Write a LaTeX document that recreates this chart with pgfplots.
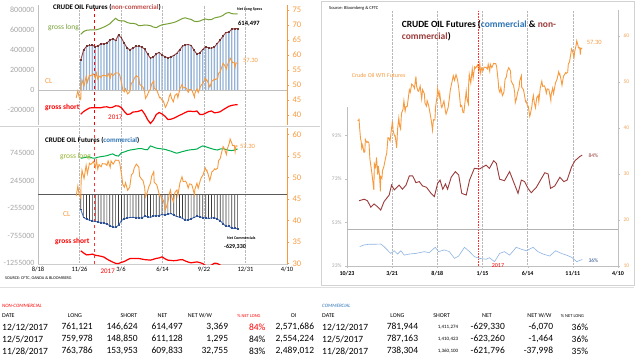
\documentclass[border=0pt]{standalone}
\usepackage{pgfplots}
\pgfplotsset{compat=1.18}
\usepackage{pgfplotstable}
\usepackage{fontspec}
\setmainfont{Carlito}
\newcommand{\fs}[1]{\fontsize{#1}{#1}\selectfont}
\definecolor{cOr}{HTML}{F79A3E}
\definecolor{cOrL}{HTML}{F5A55A}
\definecolor{cNet}{HTML}{A04040}
\definecolor{cNetM}{HTML}{6E3535}
\definecolor{cBar}{HTML}{95B3D7}
\definecolor{cGLa}{HTML}{76A035}
\definecolor{cGLb}{HTML}{00B050}
\definecolor{cCNet}{HTML}{4A78C2}
\definecolor{cCNetM}{HTML}{2F4F8F}
\definecolor{cGBar}{HTML}{3A3A3A}
\definecolor{cPR}{HTML}{9B3B3B}
\definecolor{cPB}{HTML}{8EB4E3}
\definecolor{cTitR}{HTML}{C0504D}
\definecolor{cTitB}{HTML}{2E75B6}
\definecolor{cGT}{HTML}{A6A6A6}

\pgfplotstableread{
d ncnet nclong ncshort cnet clong cshort
403 300 557 -243 -280 649 -1031
410 400 585 -215 -424 660 -1070
417 437 597 -197 -458 672 -1105
424 446 600 -180 -473 675 -1100
431 448 600 -177 -487 655 -1090
438 433 600 -177 -497 655 -1110
445 442 607 -177 -507 670 -1120
452 462 618 -177 -518 680 -1130
459 460 630 -170 -530 688 -1145
466 470 645 -168 -545 697 -1180
473 498 662 -177 -573 715 -1210
480 512 690 -172 -597 730 -1235
487 495 717 -158 -605 700 -1258
494 550 695 -160 -566 690 -1262
501 520 690 -177 -480 750 -1240
508 468 690 -215 -450 765 -1225
515 418 675 -245 -435 785 -1195
522 402 667 -240 -425 800 -1170
529 420 667 -220 -424 808 -1168
536 437 660 -218 -426 817 -1170
543 438 643 -212 -436 826 -1170
550 428 645 -200 -432 825 -1180
557 410 650 -240 -405 810 -1190
564 360 648 -295 -410 805 -1195
571 317 643 -335 -424 875 -1200
578 330 630 -300 -398 855 -1185
585 360 623 -245 -395 835 -1168
592 375 640 -225 -392 826 -1160
599 350 652 -240 -370 820 -1140
606 333 657 -262 -380 812 -1175
613 322 662 -295 -368 795 -1200
620 330 668 -292 -352 780 -1205
627 345 675 -283 -382 760 -1210
634 365 685 -268 -406 742 -1205
641 400 700 -253 -420 755 -1195
648 437 715 -240 -440 772 -1190
655 450 722 -225 -473 785 -1215
662 455 712 -212 -470 798 -1235
669 445 706 -213 -450 805 -1248
676 398 688 -216 -425 810 -1240
683 358 684 -210 -401 818 -1232
690 372 690 -245 -413 850 -1245
697 405 702 -245 -426 875 -1262
704 432 710 -232 -435 860 -1300
711 422 702 -217 -442 842 -1310
718 418 705 -210 -432 825 -1290
725 430 720 -228 -428 810 -1255
732 465 727 -225 -455 800 -1260
739 500 733 -217 -483 818 -1290
746 540 747 -198 -540 825 -1320
753 575 768 -180 -584 808 -1340
760 577.078 775 -163 -583.798 795 -1330
767 609.833 763.786 -153.953 -621.796 790 -1360.1
774 611.128 759.978 -148.850 -623.260 800 -1410.423
781 614.497 761.121 -146.624 -629.330 820 -1411.274
}\weekly

\pgfplotstableread{
d p
35 41.70
38 41.65
40 41.85
42 39.97
45 37.65
47 37.16
49 35.62
52 36.31
54 35.52
56 34.73
59 34.74
61 37.50
66 36.81
69 37.04
73 36.76
76 33.27
80 31.41
82 30.48
84 29.42
89 26.55
91 32.19
95 31.45
98 33.62
102 29.88
104 31.72
108 29.69
111 26.21
112 29.44
116 29.04
118 30.77
122 31.48
126 32.78
129 33.75
132 34.57
136 37.90
139 37.84
143 37.18
147 39.44
151 41.45
153 39.46
158 38.28
160 38.34
165 35.70
168 39.72
172 42.17
175 40.36
178 39.78
181 43.18
186 44.04
189 45.92
193 43.65
196 44.66
200 44.66
203 46.21
207 48.31
210 47.75
215 49.56
221 49.10
224 48.62
229 51.23
231 49.07
236 48.01
238 47.98
243 49.13
248 46.33
251 48.33
257 47.43
259 45.41
264 44.75
266 45.95
271 44.94
276 43.13
280 41.60
284 39.51
287 41.80
292 41.71
294 44.49
299 46.79
301 48.52
306 46.77
308 47.64
313 44.70
315 44.44
320 45.50
322 45.88
327 43.58
329 43.03
333 43.85
336 44.48
341 47.05
343 48.24
348 49.83
353 51.35
357 50.35
362 51.60
367 50.52
371 48.70
374 46.86
377 44.66
381 44.89
385 43.41
388 43.32
392 45.69
396 48.03
399 46.06
403 45.23
404 49.44
406 51.68
411 49.77
416 52.83
419 50.90
424 53.30
427 53.02
434 53.72
438 52.33
441 53.99
444 51.96
447 53.01
452 52.48
455 53.22
459 53.18
462 53.17
466 52.81
469 53.83
474 52.34
476 53.86
481 53.11
487 54.06
490 53.99
494 54.01
497 53.33
502 50.28
504 48.49
508 47.72
511 48.78
516 47.04
521 47.73
525 50.60
529 51.03
532 52.24
537 53.11
543 52.41
545 50.27
550 49.56
553 49.33
557 47.66
559 45.52
563 46.43
567 47.84
571 48.66
574 50.33
579 51.36
580 48.90
586 48.32
588 47.66
593 45.72
595 45.83
600 44.73
602 44.74
607 42.53
609 43.01
614 44.74
616 46.04
619 47.07
622 45.52
626 44.40
630 46.54
635 47.12
637 45.77
642 48.75
647 50.17
650 49.03
655 49.17
658 48.82
662 47.55
665 48.51
670 48.41
672 47.87
677 45.96
678 47.23
683 48.66
686 47.48
691 49.30
693 49.89
698 50.69
703 52.22
706 51.56
707 51.67
711 50.42
714 49.29
719 51.30
721 51.45
726 52.04
728 51.84
733 52.18
735 53.90
739 54.38
742 55.64
746 57.20
749 56.74
754 55.33
756 56.55
761 58.02
763 58.95
767 57.99
769 57.40
773 57.47
775 55.96
777 57.36
781 57.30
}\wti

\pgfplotstableread{
d v
40 63.0
57 63.7
68 63.0
79 60.0
90 61.5
101 60.3
112 58.7
123 62.6
140 65.6
148 70.2
157 68.0
173 70.2
184 68.3
196 70.2
207 74.4
218 74.4
229 71.3
240 71.8
251 69.8
264 69.2
279 66.4
290 64.9
301 71.0
309 72.5
318 68.3
327 70.7
334 68.3
346 73.8
360 76.4
371 74.8
381 66.4
396 65.6
407 72.5
423 77.9
440 77.6
462 79.4
473 77.9
487 81.4
496 80.2
507 72.9
523 72.2
540 76.4
551 72.5
568 66.4
579 72.5
590 71.8
601 68.7
612 66.7
629 69.2
646 73.3
657 75.9
668 75.3
676 68.7
690 69.8
707 73.8
720 71.8
731 72.5
746 78.6
757 81.4
773 83.3
781 84.0
}\pctnc

\pgfplotstableread{
d v
42 41.9
57 42.7
75 43.0
95 43.0
112 43.1
123 41.9
145 38.8
157 40.0
168 38.5
179 40.0
190 38.0
207 38.5
229 38.8
257 39.6
273 39.1
293 41.6
304 39.6
323 40.4
340 39.6
357 36.5
371 37.6
390 41.6
407 39.6
423 37.3
440 36.5
462 36.1
473 36.8
490 35.0
507 38.8
523 39.6
540 38.0
562 41.6
579 40.7
596 40.0
618 41.6
634 39.6
651 38.5
673 37.6
693 40.0
712 38.8
729 38.0
746 37.0
763 35.0
781 36.0
}\pctc

\begin{document}
\begin{tikzpicture}[x=1pt,y=1pt]
\path[use as bounding box] (0,0) rectangle (640,-358);
\fill[white] (0,0) rectangle (640,-358);
% frames
\draw[gray!35] (321,-1) rectangle (634,-285);
\draw[gray!35] (0,-126) -- (320,-126);
\draw[gray!25] (0,-287) -- (634,-287);

% ---------- top-left: non-commercial ----------
\begin{axis}[at={(38pt,-125pt)}, anchor=south west, scale only axis,
  width=249pt, height=120pt, xmin=300, xmax=900, ymin=-350, ymax=850,
  axis lines*=left, x axis line style={draw=none}, y axis line style={draw=gray!50},
  xtick={400,500,600,700,800}, xticklabels={}, xmajorgrids,
  x grid style={gray!55, densely dotted, line width=0.5pt},
  ytick={-200,0,200,400,600,800},
  yticklabels={-200000,0,200000,400000,600000,800000},
  yticklabel style={font=\fs{8}, text=cGT}, tick style={draw=none}]
\addplot[gray!50, line width=0.5pt] coordinates {(300,0) (900,0)};
\addplot[ybar, bar width=1.3pt, fill=cBar, draw=none] table[x=d, y=ncnet] {\weekly};
\addplot[cGLa, line width=1pt] table[x=d, y=nclong] {\weekly};
\addplot[red, line width=1.2pt] table[x=d, y=ncshort] {\weekly};
\addplot[cNet, line width=0.9pt, mark=square*, mark size=0.45pt, mark options={fill=cNetM, draw=cNetM}] table[x=d, y=ncnet] {\weekly};
\addplot[red, dashed, line width=1.2pt] coordinates {(436,-350) (436,850)};
\end{axis}
\begin{axis}[at={(38pt,-125pt)}, anchor=south west, scale only axis,
  width=249pt, height=120pt, xmin=300, xmax=900, ymin=36.667, ymax=76.667,
  axis y line*=right, axis x line=none, y axis line style={draw=cOr, line width=0.7pt},
  ytick={40,45,50,55,60,65,70,75}, yticklabels={40,45,50,55,60,65,70,75},
  yticklabel style={font=\fs{8.5}, text=cOr}, ytick style={draw=cOr},
  major tick length=2pt, tick align=outside]
\addplot[cOr, line width=0.9pt, restrict x to domain=390:800] table[x=d, y=p] {\wti};
\end{axis}
\node[anchor=west, inner sep=0] at (53,-7) {\fs{7}\bfseries CRUDE OIL Futures (\textcolor{cTitR}{non-commercial})};
\node[anchor=west, inner sep=0, text=cGLa] at (48,-28) {\fs{7.5}gross long};
\node[anchor=west, inner sep=0, text=cOr] at (45,-81.5) {\fs{7.5}CL};
\node[anchor=west, inner sep=0, text=red] at (45,-107.5) {\fs{7.5}\bfseries gross short};
\node[anchor=west, inner sep=0, text=red] at (108,-117.5) {\fs{7}2017};
\node[anchor=west, inner sep=0] at (237,-9.5) {\fs{4}\bfseries Net Long Specs};
\node[anchor=west, inner sep=0] at (238,-23.5) {\fs{6.5}\bfseries 614,497};
\node[anchor=west, inner sep=0, text=cOr] at (243,-60) {\fs{6.5}57.30};

% ---------- bottom-left: commercial ----------
\begin{axis}[at={(38pt,-264pt)}, anchor=south west, scale only axis,
  width=249pt, height=136pt, xmin=300, xmax=900, ymin=-1270, ymax=1200,
  axis lines*=left, x axis line style={draw=gray!40}, y axis line style={draw=gray!50},
  xtick={300,400,500,600,700,800,900},
  xticklabels={8/18,11/26,3/6,6/14,9/22,12/31,4/10},
  xticklabel style={font=\fs{6.5}, text=black, yshift=1pt},
  xmajorgrids, x grid style={gray!55, densely dotted, line width=0.5pt},
  ytick={-1255,-755,-255,245,745},
  yticklabels={-1255000,-755000,-255000,245000,745000},
  yticklabel style={font=\fs{8}, text=cGT}, tick style={draw=none}]
\addplot[ybar, bar width=0.7pt, fill=cGBar, draw=none] table[x=d, y=cnet] {\weekly};
\addplot[gray!70!black, line width=0.6pt] coordinates {(300,0) (900,0)};
\addplot[cGLb, line width=1pt] table[x=d, y=clong] {\weekly};
\addplot[red, line width=1.2pt] table[x=d, y=cshort] {\weekly};
\addplot[cCNet, line width=0.9pt, mark=square*, mark size=0.45pt, mark options={fill=cCNetM, draw=cCNetM}] table[x=d, y=cnet] {\weekly};
\addplot[red!80, dashed, line width=1.2pt] coordinates {(436,-1270) (436,1200)};
\end{axis}
\begin{axis}[at={(38pt,-264pt)}, anchor=south west, scale only axis,
  width=249pt, height=136pt, xmin=300, xmax=900, ymin=29.9, ymax=61.5,
  axis y line*=right, axis x line=none, y axis line style={draw=cOr, line width=0.7pt},
  ytick={30,35,40,45,50,55,60}, yticklabels={30,35,40,45,50,55,60},
  yticklabel style={font=\fs{8.5}, text=cOr}, ytick style={draw=cOr},
  major tick length=2pt, tick align=outside]
\addplot[cOr, line width=0.9pt, restrict x to domain=390:800] table[x=d, y=p] {\wti};
\end{axis}
\node[anchor=west, inner sep=0] at (45,-140.7) {\fs{7}\bfseries CRUDE OIL Futures (\textcolor{cTitB}{commercial})};
\node[anchor=west, inner sep=0, text=cGLa!80!yellow] at (60,-156.7) {\fs{7.5}gross long};
\node[anchor=west, inner sep=0, text=cOr] at (63,-214) {\fs{7.5}CL};
\node[anchor=west, inner sep=0, text=red] at (55,-242) {\fs{7.5}\bfseries gross short};
\node[anchor=west, inner sep=0] at (227,-238) {\fs{4}\bfseries Net Commercials};
\node[anchor=west, inner sep=0] at (224,-246.7) {\fs{6}\bfseries -629,330};
\node[anchor=west, inner sep=0, text=cOr] at (240,-146.7) {\fs{6.5}57.30};
\node[anchor=east, inner sep=0, text=red] at (115,-271) {\fs{7}2017};
\node[anchor=west, inner sep=0] at (5,-278.5) {\fs{4.2}SOURCE: CFTC, OANDA \& BLOOMBERG};

% ---------- right panel ----------
\begin{axis}[at={(347pt,-266pt)}, anchor=south west, scale only axis,
  width=271pt, height=256pt, xmin=0, xmax=900, ymin=10, ymax=65.65,
  axis lines*=right, x axis line style={draw=none}, y axis line style={draw=gray!50},
  xtick={150,300,450,600,750}, xticklabels={}, xmajorgrids,
  x grid style={gray!55, densely dotted, line width=0.5pt},
  ytick={10,20,30,40,50,60}, yticklabels={10,20,30,40,50,60},
  yticklabel style={font=\fs{5.5}, text=cOrL}, ytick style={draw=gray!50},
  xtick style={draw=none}, major tick length=2pt, tick align=outside]
\addplot[cOr, line width=0.9pt] table[x=d, y=p] {\wti};
\addplot[red!80, densely dotted, line width=0.6pt] coordinates {(436,10) (436,65.65)};
\end{axis}
\begin{axis}[at={(347pt,-266pt)}, anchor=south west, scale only axis,
  width=271pt, height=159pt, xmin=0, xmax=900, ymin=33, ymax=106.1,
  axis lines*=left, axis line style={draw=gray!50},
  xtick={0,150,300,450,600,750,900},
  xticklabels={10/23,3/21,8/18,1/15,6/14,11/11,4/10},
  xticklabel style={font=\fs{6}\bfseries, text=black},
  ytick={33,53,73,93}, yticklabels={33\%,53\%,73\%,93\%},
  yticklabel style={font=\fs{5.5}, text=cGT}, tick style={draw=gray!50},
  major tick length=2pt, tick align=outside]
\addplot[gray!60, line width=0.7pt] coordinates {(0,50) (900,50)};
\addplot[cPR, line width=0.9pt] table[x=d, y=v] {\pctnc};
\addplot[cPB, line width=0.6pt] table[x=d, y=v] {\pctc};
\end{axis}
\node[anchor=west, inner sep=0] at (329,-8.3) {\fs{4.5}Source: Bloomberg \& CFTC};
\node[anchor=west, inner sep=0] at (401.7,-24.5) {\fs{9.5}\bfseries CRUDE OIL Futures (\textcolor{cTitB}{commercial} \& \textcolor{cPR}{non-}};
\node[anchor=west, inner sep=0] at (401.7,-36.5) {\fs{9.5}\bfseries \textcolor{cPR}{commercial})};
\node[anchor=west, inner sep=0, text=cOr] at (351.7,-75) {\fs{6}Crude Oil WTI Futures};
\node[anchor=west, inner sep=0, text=cOr] at (586.7,-42.3) {\fs{6.5}57.30};
\node[anchor=west, inner sep=0, text=cPR] at (588.3,-156) {\fs{5.5}84\%};
\node[anchor=west, inner sep=0, text=cCNetM] at (588.3,-261) {\fs{5.5}36\%};
\node[anchor=west, inner sep=0, text=red] at (491.7,-265.7) {\fs{6}2017};

% ---------- tables ----------
\node[anchor=west, inner sep=0, text=red] at (2,-305.7) {\fs{5}\itshape NON-COMMERCIAL};
\node[anchor=west, inner sep=0, text=cTitB] at (322,-305.7) {\fs{5}\itshape COMMERCIAL};
\begin{scope}[every node/.style={inner sep=0, font=\fs{6}}]
\node[anchor=west] at (2,-316) {DATE};
\node at (75,-316) {LONG};
\node at (129,-316) {SHORT};
\node at (162.5,-316) {NET};
\node at (200,-316) {NET W/W};
\node[text=red, font=\fs{4.5}] at (249,-316) {\% NET LONG};
\node at (293.5,-316) {OI};
\node[anchor=west] at (322,-316) {DATE};
\node at (397.5,-316) {LONG};
\node at (441.7,-316) {SHORT};
\node at (487,-316) {NET};
\node at (539.5,-316) {NET W/W};
\node[font=\fs{4.5}] at (572.5,-316) {\% NET LONG};
\end{scope}
\begin{scope}[every node/.style={inner sep=0, font=\fs{9.5}, anchor=east}]
\node[anchor=west] at (2,-327.3) {12/12/2017};
\node at (93,-327.3) {761,121};
\node at (138,-327.3) {146,624};
\node at (183,-327.3) {614,497};
\node at (228.3,-327.3) {3,369};
\node[text=red] at (265.7,-327.3) {84\%};
\node at (314.3,-327.3) {2,571,686};
\node[anchor=west] at (2,-339.3) {12/5/2017};
\node at (93,-339.3) {759,978};
\node at (138,-339.3) {148,850};
\node at (183,-339.3) {611,128};
\node at (228.3,-339.3) {1,295};
\node at (265.7,-339.3) {84\%};
\node at (314.3,-339.3) {2,554,224};
\node[anchor=west] at (2,-351) {11/28/2017};
\node at (93,-351) {763,786};
\node at (138,-351) {153,953};
\node at (183,-351) {609,833};
\node at (228.3,-351) {32,755};
\node at (265.7,-351) {83\%};
\node at (314.3,-351) {2,489,012};
\node[anchor=west] at (322,-327.3) {12/12/2017};
\node at (418.3,-327.3) {781,944};
\node[font=\fs{5}] at (458.3,-327.3) {1,411,274};
\node at (505,-327.3) {-629,330};
\node at (553.3,-327.3) {-6,070};
\node at (588.3,-327.3) {36\%};
\node[anchor=west] at (322,-339.3) {12/5/2017};
\node at (418.3,-339.3) {787,163};
\node[font=\fs{5}] at (458.3,-339.3) {1,410,423};
\node at (505,-339.3) {-623,260};
\node at (553.3,-339.3) {-1,464};
\node at (588.3,-339.3) {36\%};
\node[anchor=west] at (322,-351) {11/28/2017};
\node at (418.3,-351) {738,304};
\node[font=\fs{5}] at (458.3,-351) {1,360,100};
\node at (505,-351) {-621,796};
\node at (553.3,-351) {-37,998};
\node at (588.3,-351) {35\%};
\end{scope}
\end{tikzpicture}
\end{document}
